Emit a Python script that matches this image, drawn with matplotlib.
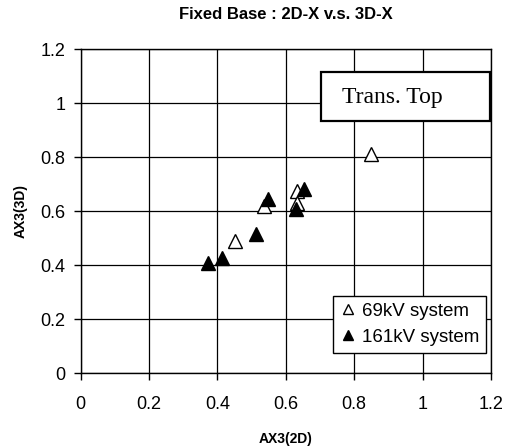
import matplotlib
matplotlib.use('Agg')
import matplotlib.pyplot as plt
from matplotlib.patches import Rectangle

# ── Data ──────────────────────────────────────────────────────────────────────
x_69kv  = [0.849, 0.632, 0.633, 0.535, 0.450]
y_69kv  = [0.812, 0.676, 0.632, 0.620, 0.490]
x_161kv = [0.654, 0.630, 0.547, 0.512, 0.412, 0.372]
y_161kv = [0.681, 0.609, 0.646, 0.515, 0.426, 0.407]

ticks = [0, 0.2, 0.4, 0.6, 0.8, 1.0, 1.2]
tick_labels = ['0', '0.2', '0.4', '0.6', '0.8', '1', '1.2']

plt.rcParams['font.family'] = ['Liberation Sans', 'DejaVu Sans']

fig = plt.figure(figsize=(5.09, 4.46), dpi=100)
ax = fig.add_axes([0.1585, 0.163, 0.806, 0.7265])

ax.plot(x_69kv, y_69kv, linestyle='none', marker='^', markersize=10.5,
        markerfacecolor='white', markeredgecolor='black', markeredgewidth=1.0,
        label='69kV system', zorder=4)
ax.plot(x_161kv, y_161kv, linestyle='none', marker='^', markersize=10.5,
        markerfacecolor='black', markeredgecolor='black', markeredgewidth=1.0,
        label='161kV system', zorder=4)

ax.set_xlim(0, 1.2)
ax.set_ylim(0, 1.2)
ax.set_xticks(ticks)
ax.set_xticklabels(tick_labels)
ax.set_yticks(ticks)
ax.set_yticklabels(tick_labels)
ax.tick_params(direction='out', length=5, width=1, color='black',
               labelsize=13, pad=6)
ax.tick_params(axis='x', pad=11)
ax.grid(True, color='black', linewidth=0.9, zorder=1)
ax.set_axisbelow(True)
for s in ax.spines.values():
    s.set_color('black')
    s.set_linewidth(1.0)

ax.set_title('Fixed Base : 2D-X v.s. 3D-X', fontsize=12, fontweight='bold', pad=22)
ax.set_xlabel('AX3(2D)', fontsize=10, fontweight='bold', labelpad=14)
ax.set_ylabel('AX3(3D)', fontsize=10, fontweight='bold', labelpad=9)

# "Trans. Top" box
ax.add_patch(Rectangle((0.585, 0.779), 0.4126, 0.152, transform=ax.transAxes,
                       facecolor='white', edgecolor='black', linewidth=1.6, zorder=5))
ax.text(0.636, 0.852, 'Trans. Top', transform=ax.transAxes, fontsize=17,
        family='Liberation Serif', ha='left', va='center', zorder=6)

leg = ax.legend(loc='lower right', bbox_to_anchor=(0.988, 0.064), fontsize=13.5,
                markerscale=0.72, handlelength=0.9, handletextpad=0.3,
                borderpad=0.35, labelspacing=0.5, fancybox=False,
                framealpha=1, edgecolor='black', borderaxespad=0)
leg.get_frame().set_linewidth(1.0)
leg.set_zorder(6)

fig.savefig('out.png', dpi=100)
